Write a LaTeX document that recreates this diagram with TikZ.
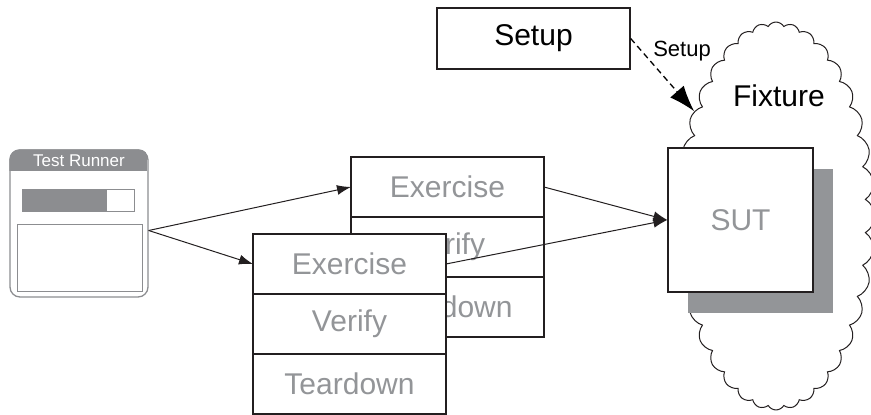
\documentclass[tikz,border=0pt]{standalone}
\usepackage{fontspec}
\setmainfont{Liberation Sans}
\usetikzlibrary{positioning,arrows.meta,shapes.symbols,shadows}
\definecolor{ink}{HTML}{231F20}
\definecolor{txtgray}{HTML}{939598}
\definecolor{rgray}{HTML}{8C8D90}

\begin{document}
\begin{tikzpicture}[
        x=1pt, y=-1pt,                   % pixel grid of the reference
        big/.style={font=\fontsize{30}{32}\selectfont},
        box/.style={
            rectangle,
            draw=ink,
            fill=white,
            line width=1.3pt,
            minimum width=193pt,
            minimum height=60pt,
            inner sep=0pt,
            outer sep=0pt,
            text=txtgray,
            big
        },
        arrow/.style={-{Latex[length=14pt,width=10pt]}, line width=1pt, draw=ink}
    ]
    \useasboundingbox (0,0) rectangle (871,415);

    % Fixture cloud
    \node[cloud, cloud puffs=36, cloud puff arc=120, cloud ignores aspect,
          draw=ink, line width=1pt, minimum width=198pt, minimum height=388pt,
          inner sep=0pt] (fixture) at (776,216) {};
    \node[big] (fixlbl) at (779,96) {Fixture};

    % SUT with shadow
    \node[draw=ink, fill=white, line width=1.3pt, minimum width=145pt,
          minimum height=144pt, text=txtgray, big,
          drop shadow={shadow xshift=20pt, shadow yshift=-21pt,
                       fill=txtgray, opacity=1}] (sut) at (740.5,220) {SUT};

    % Setup
    \node[draw=ink, line width=1.3pt, minimum width=193pt,
          minimum height=61pt, big] (setup) at (533.5,38.5) {Setup};
    \node[font=\fontsize{22}{24}\selectfont, inner sep=0pt] (setuplbl)
          at (682,51) {Setup};
    \draw[dashed, dash pattern=on 6pt off 4pt, line width=1.3pt,
          -{Latex[length=26pt,width=18pt]}] (setup.east) -- (fixture.128);

    % Test runner
    \node[draw=rgray, line width=1.3pt, rounded corners=10pt,
          minimum width=138pt, minimum height=147pt] (runner) at (79,223.5) {};
    \begin{scope}
        \clip[rounded corners=10pt] (runner.north west) rectangle (runner.south east);
        \fill[rgray] (runner.north west) rectangle ++(138,22);
    \end{scope}
    \node[text=white, font=\fontsize{17}{19}\selectfont] (title) at (79,161) {Test Runner};
    \node[draw=rgray, fill=white, line width=1pt, minimum width=112pt,
          minimum height=22pt, inner sep=0pt] (bar) at (78,200) {};
    \fill[rgray] (bar.north west) rectangle ([xshift=85pt]bar.south west);
    \node[draw=rgray, line width=1pt, minimum width=125pt,
          minimum height=67pt] (pane) at (79.5,257.5) {};

    % back test
    \node[box] (exA) at (447.5,187) {Exercise};
    \node[box] (verA) [below=0pt of exA] {Verify};
    \node[box] (tearA) [below=0pt of verA] {Teardown};

    % front test
    \node[box] (exB) at (349.5,264) {Exercise};
    \node[box] (verB) [below=0pt of exB] {Verify};
    \node[box] (tearB) [below=0pt of verB] {Teardown};

    % edges
    \draw[arrow] ([yshift=-7pt]runner.east) -- (exA.west);
    \draw[arrow] ([yshift=-7pt]runner.east) -- (exB.west);
    \draw[arrow] (exA.east) -- (sut.west);
    \draw[arrow] (exB.east) -- (sut.west);
\end{tikzpicture}
\end{document}
